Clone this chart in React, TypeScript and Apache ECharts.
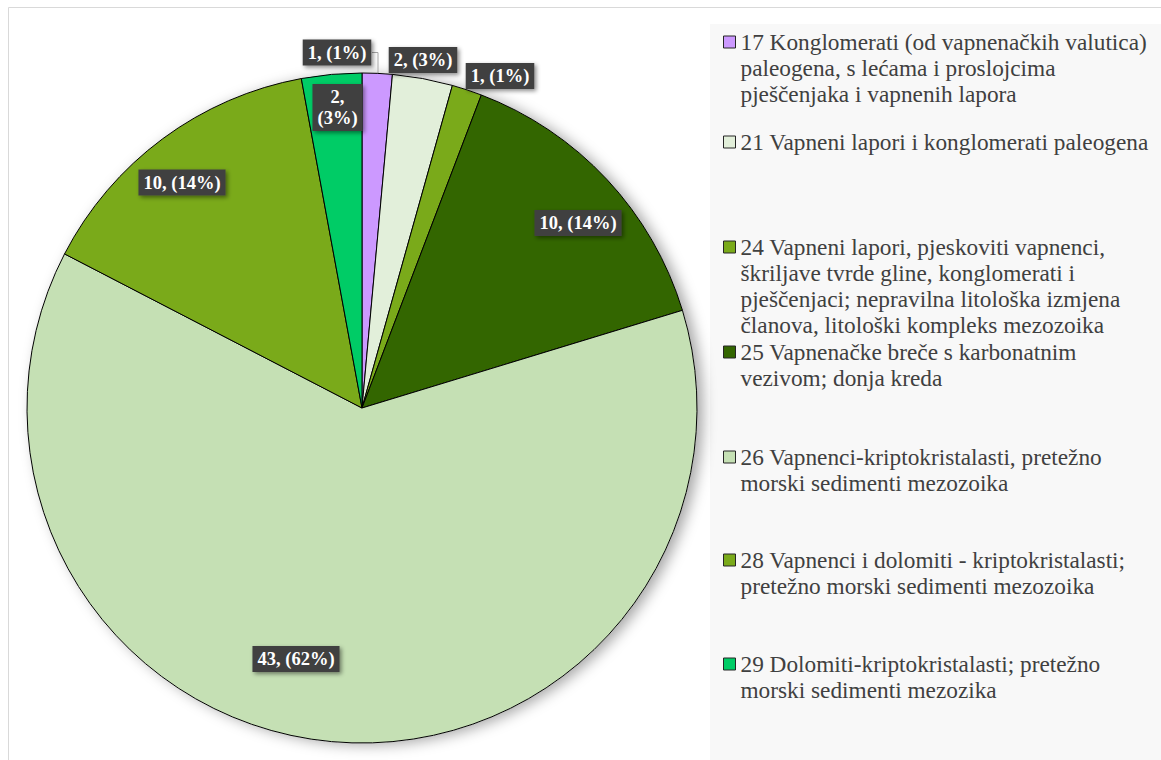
import React, { useEffect, useRef } from "react";
import * as echarts from "echarts";

// ---- data ----
const categories: string[] = [
  "17 Konglomerati (od vapnenačkih valutica)\npaleogena, s lećama i proslojcima\npješčenjaka i vapnenih lapora",
  "21 Vapneni lapori i konglomerati paleogena",
  "24 Vapneni lapori, pjeskoviti vapnenci,\nškriljave tvrde gline, konglomerati i\npješčenjaci; nepravilna litološka izmjena\nčlanova, litološki kompleks mezozoika",
  "25 Vapnenačke breče s karbonatnim\nvezivom; donja kreda",
  "26 Vapnenci-kriptokristalasti, pretežno\nmorski sedimenti mezozoika",
  "28 Vapnenci i dolomiti - kriptokristalasti;\npretežno morski sedimenti mezozoika",
  "29 Dolomiti-kriptokristalasti; pretežno\nmorski sedimenti mezozika",
];
const counts: number[] = [1, 2, 1, 10, 43, 10, 2];
const colors: string[] = ["#CC99FF", "#E2EFDA", "#7AAA1A", "#336600", "#C5E0B4", "#7AAA1A", "#00CC66"];

// ---- layout (not data) ----
const FONT = "'Liberation Serif', 'Times New Roman', serif";
const PIE_CENTER = [362, 408];
const PIE_RADIUS = 335;
const labelCenters: number[][] = [
  [337, 52.5],
  [423, 60],
  [500, 76],
  [578, 223],
  [296, 659],
  [182, 182.5],
  [337.5, 107.5],
];
const wrapLabel = [false, false, false, false, false, false, true];
const legendIconY: number[] = [42, 142, 247, 352, 457, 560, 664];
const LEGEND_LH = 26;
const LEGEND_LEFT = 723;
const ICON = 12;

export default function App() {
  const ref = useRef<HTMLDivElement>(null);

  useEffect(() => {
    document.body.style.margin = "0";
    if (!ref.current) return;
    const chart = echarts.init(ref.current, undefined, { renderer: "svg" });

    const legends = categories.map((name, i) => {
      const lines = name.split("\n");
      const k = lines.length;
      const padded = new Array(k - 1).fill("").concat(lines).join("\n");
      const top = legendIconY[i] - (2 * k - 1) * (LEGEND_LH / 2);
      return {
        data: [name],
        orient: "vertical",
        left: LEGEND_LEFT,
        top,
        padding: 0,
        itemWidth: ICON,
        itemHeight: ICON,
        icon: "rect",
        selectedMode: false,
        itemStyle: { borderColor: "#262626", borderWidth: 1 },
        formatter: () => padded,
        textStyle: {
          fontFamily: FONT,
          fontSize: 23.3,
          lineHeight: LEGEND_LH,
          color: "#404040",
        },
      };
    });

    const option: any = {
      animation: false,
      backgroundColor: "#ffffff",
      graphic: [
        {
          type: "rect",
          z: 0,
          silent: true,
          shape: { x: 710, y: 24, width: 470, height: 760 },
          style: { fill: "#f8f8f8" },
        },
        {
          type: "rect",
          z: 0,
          silent: true,
          shape: { x: 8.5, y: 7.5, width: 1170, height: 780 },
          style: { fill: "none", stroke: "#d9d9d9", lineWidth: 1 },
        },
      ],
      legend: legends,
      series: [
        {
          type: "pie",
          name: "shadow",
          silent: true,
          z: 1,
          center: PIE_CENTER,
          radius: PIE_RADIUS,
          label: { show: false },
          labelLine: { show: false },
          legendHoverLink: false,
          itemStyle: {
            color: "#ffffff",
            shadowColor: "rgba(0,0,0,0.35)",
            shadowBlur: 14,
            shadowOffsetX: 6,
            shadowOffsetY: 2,
          },
          data: [{ value: 1, name: "__shadow" }],
        },
        {
          type: "pie",
          name: "Litologija",
          z: 2,
          center: PIE_CENTER,
          radius: PIE_RADIUS,
          startAngle: 90,
          clockwise: true,
          avoidLabelOverlap: false,
          emphasis: { disabled: true },
          itemStyle: { borderColor: "#000000", borderWidth: 1 },
          label: {
            show: true,
            position: "inside",
            formatter: (p: any) => {
              const pct = Math.round(p.percent);
              return wrapLabel[p.dataIndex]
                ? `${p.value},\n(${pct}%)`
                : `${p.value}, (${pct}%)`;
            },
            color: "#ffffff",
            fontFamily: FONT,
            fontWeight: "bold",
            fontSize: 18.5,
            lineHeight: 21,
            backgroundColor: "#404040",
            padding: [3, 5, 2, 5],
            shadowColor: "rgba(0,0,0,0.45)",
            shadowBlur: 4,
            shadowOffsetX: 2,
            shadowOffsetY: 2,
          },
          labelLine: { show: false },
          labelLayout: (p: any) => {
            const c = labelCenters[p.dataIndex];
            const out: any = { x: c[0], y: c[1], align: "center", verticalAlign: "middle" };
            if (p.dataIndex === 0) {
              out.labelLinePoints = [
                [378, 75],
                [378, 52.5],
                [372, 52.5],
              ];
            }
            return out;
          },
          data: categories.map((name, i) => {
            const item: any = {
              name,
              value: counts[i],
              itemStyle: { color: colors[i] },
            };
            if (i === 0) {
              item.label = { position: "outside" };
              item.labelLine = {
                show: true,
                length: 10,
                length2: 5,
                lineStyle: { color: "#a6a6a6", width: 1 },
              };
            }
            return item;
          }),
        },
      ],
    };

    chart.setOption(option);
    return () => chart.dispose();
  }, []);

  return <div ref={ref} style={{ width: 1161, height: 760, overflow: "hidden" }} />;
}
